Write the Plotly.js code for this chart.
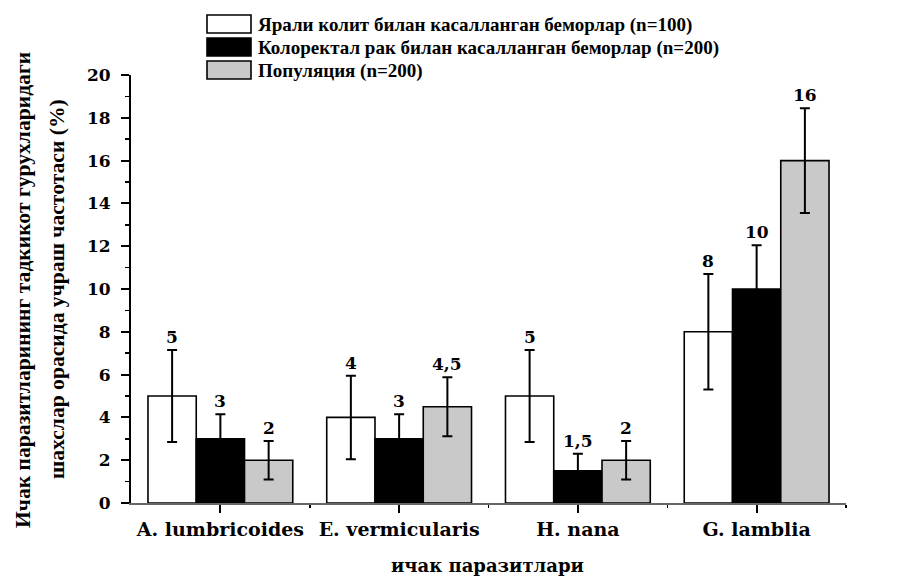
<!DOCTYPE html>
<html>
<head>
<meta charset="utf-8">
<script src="https://cdn.plot.ly/plotly-3.0.1.min.js"></script>
<style>html,body{margin:0;padding:0;background:#fff;}#chart{width:904px;height:578px;}</style>
</head>
<body>
<div id="chart"></div>
<script>
// ---- data ----
const categories = ['A. lumbricoides', 'E. vermicularis', 'H. nana', 'G. lamblia'];
const seriesNames = [
  'Ярали колит билан касалланган беморлар (n=100)',
  'Колоректал рак билан касалланган беморлар (n=200)',
  'Популяция (n=200)'
];
const ulcerativeColitis = [5, 4, 5, 8];
const ulcerativeColitisErr = [2.15, 1.95, 2.15, 2.7];
const colorectalCancer = [3, 3, 1.5, 10];
const colorectalCancerErr = [1.15, 1.15, 0.8, 2.05];
const population = [2, 4.5, 2, 16];
const populationErr = [0.9, 1.38, 0.9, 2.45];
const yTitleLines = ['Ичак паразитларининг тадкикот гурухларидаги', 'шахслар орасида учраш частотаси (%)'];
const xTitle = 'ичак паразитлари';

// ---- styling ----
const colors = ['#ffffff', '#000000', '#c9c9c9'];
const values = [ulcerativeColitis, colorectalCancer, population];
const errs = [ulcerativeColitisErr, colorectalCancerErr, populationErr];
const M = {l: 131, r: 58, t: 75, b: 75};
const W = 904, H = 578;
const PW = W - M.l - M.r, PH = H - M.t - M.b;
const px = x => (x - M.l) / PW;
const py = y => (H - M.b - y) / PH;
const bargap = 0.19;
const bw = (1 - bargap) / 3;
const offsets = [-bw, 0, bw];
const serif = 'DejaVu Serif';
const idx = categories.map((c, i) => i);

const traces = values.map((v, s) => ({
  type: 'bar',
  name: seriesNames[s],
  x: idx,
  y: v,
  marker: {color: colors[s], line: {color: '#000', width: 1.6}},
  error_y: {type: 'data', array: errs[s], visible: true, color: '#000', thickness: 2, width: 5},
  showlegend: false,
  hoverinfo: 'y'
}));

const annotations = [];
values.forEach((v, s) => {
  v.forEach((val, i) => {
    annotations.push({
      xref: 'x', yref: 'y', x: i + offsets[s], y: val + errs[s][i],
      text: String(val).replace('.', ','), showarrow: false,
      yanchor: 'bottom', yshift: 1,
      font: {family: serif, size: 17, color: '#000', weight: 'bold'}
    });
  });
});

// custom legend
const shapes = [];
const legendRows = [24, 47, 70];
seriesNames.forEach((name, s) => {
  const cy = legendRows[s];
  shapes.push({
    type: 'rect', xref: 'paper', yref: 'paper',
    x0: px(207), x1: px(251), y0: py(cy + 9), y1: py(cy - 9),
    fillcolor: colors[s], line: {color: '#000', width: 1.6}
  });
  annotations.push({
    xref: 'paper', yref: 'paper', x: px(256), y: py(cy + 1),
    xanchor: 'left', yanchor: 'middle', text: '<b>' + name + '</b>', showarrow: false,
    font: {family: 'Liberation Serif', size: 19, color: '#000'}
  });
});

// axis titles
annotations.push({
  xref: 'paper', yref: 'paper', x: px(23), y: py(290), textangle: -90,
  xanchor: 'center', yanchor: 'middle', text: '<b>' + yTitleLines[0] + '</b>', showarrow: false,
  font: {family: 'Liberation Serif', size: 21.6, color: '#000'}
});
annotations.push({
  xref: 'paper', yref: 'paper', x: px(57), y: py(289), textangle: -90,
  xanchor: 'center', yanchor: 'middle', text: '<b>' + yTitleLines[1] + '</b>', showarrow: false,
  font: {family: 'Liberation Serif', size: 21.6, color: '#000'}
});
annotations.push({
  xref: 'paper', yref: 'paper', x: px(487), y: py(565),
  xanchor: 'center', yanchor: 'middle', text: '<b>' + xTitle + '</b>', showarrow: false,
  font: {family: serif, size: 18, color: '#000'}
});

const layout = {
  width: W, height: H,
  margin: M,
  paper_bgcolor: '#fff', plot_bgcolor: '#fff',
  barmode: 'group', bargap: bargap, bargroupgap: 0,
  showlegend: false,
  xaxis: {
    range: [-0.5, 3.5], tickmode: 'array', tickvals: idx,
    ticktext: categories.map(c => '<b>' + c + '</b>'),
    ticks: 'outside', ticklen: 8, tickwidth: 2, tickcolor: '#000',
    showline: true, linecolor: '#666', linewidth: 2,
    showgrid: false, zeroline: false,
    minor: {tickmode: 'array', tickvals: [0.5, 1.5, 2.5, 3.5], ticks: 'outside', ticklen: 3, tickwidth: 1.5, tickcolor: '#000', showgrid: false},
    tickfont: {family: serif, size: 19, color: '#000'}
  },
  yaxis: {
    range: [0, 20], dtick: 2, tick0: 0,
    ticks: 'outside', ticklen: 8, tickwidth: 2, tickcolor: '#000',
    showline: true, linecolor: '#000', linewidth: 2,
    showgrid: false, zeroline: false,
    ticklabelstandoff: 7,
    minor: {dtick: 1, ticks: 'outside', ticklen: 4, tickwidth: 1.5, tickcolor: '#000', showgrid: false},
    tickfont: {family: serif, size: 17, color: '#000', weight: 'bold'}
  },
  shapes: shapes,
  annotations: annotations
};

Plotly.newPlot('chart', traces, layout, {displayModeBar: false, staticPlot: true});
</script>
</body>
</html>
